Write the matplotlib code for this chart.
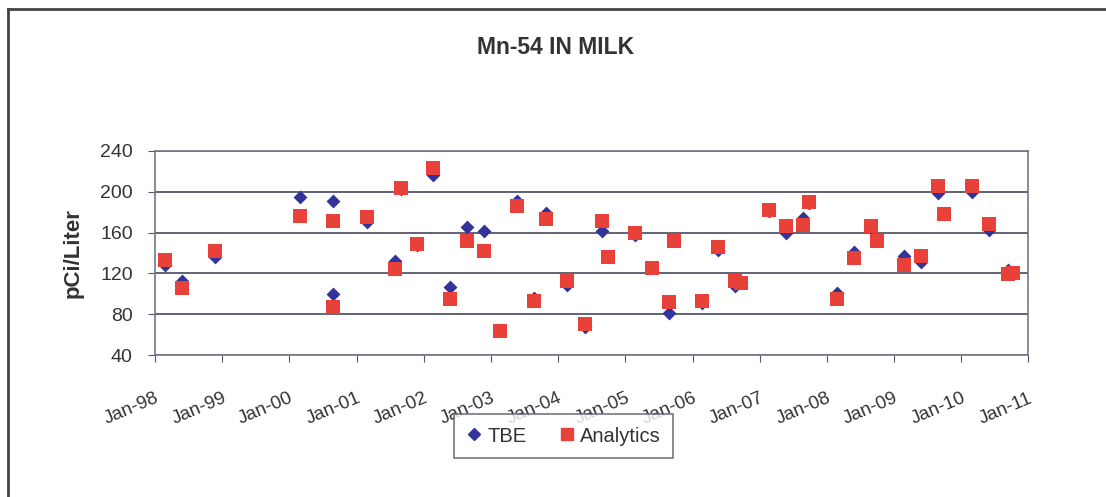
import pandas as pd
import matplotlib
matplotlib.use('Agg')
import matplotlib.pyplot as plt
import matplotlib.dates as mdates
from matplotlib.lines import Line2D

plt.rcParams['font.family'] = ['Liberation Sans', 'DejaVu Sans']

# sample dates and results (pCi/Liter)
dates = ['1998-02-24', '1998-05-26', '1998-11-24', '2000-02-27', '2000-08-26',
         '2000-08-26', '2001-02-24', '2001-07-28', '2001-08-30', '2001-11-25',
         '2002-02-21', '2002-05-22', '2002-08-26', '2002-11-24', '2003-02-22',
         '2003-05-23', '2003-08-23', '2003-10-26', '2004-02-21', '2004-05-27',
         '2004-08-26', '2004-09-26', '2005-02-22', '2005-05-27', '2005-08-25',
         '2005-09-24', '2006-02-22', '2006-05-20', '2006-08-18', '2006-09-24',
         '2007-02-21', '2007-05-22', '2007-08-24', '2007-09-26', '2008-02-25',
         '2008-05-27', '2008-08-27', '2008-09-27', '2009-02-24', '2009-05-26',
         '2009-08-29', '2009-09-29', '2010-02-27', '2010-05-30', '2010-09-12',
         '2010-10-08']
tbe = [128, 113, 136, 195, 191, 100, 170, 132, 203, 148,
       216, 107, 165, 162, 64, 191, 96, 179, 109, 67,
       162, 136, 158, 125, 81, 152, 91, 143, 108, 112,
       181, 160, 174, 189, 101, 141, 165, 152, 137, 131,
       199, 178, 200, 163, 123, 120]
analytics = [133, 106, 142, 176, 171, 87, 175, 124, 204, 149,
             223, 95, 152, 142, 64, 186, 93, 173, 113, 70,
             171, 136, 160, 125, 92, 152, 93, 146, 113, 111,
             182, 166, 167, 190, 95, 135, 166, 152, 128, 137,
             206, 178, 206, 168, 119, 120]

x = pd.to_datetime(dates)

fig = plt.figure(figsize=(11.06, 4.97), dpi=100)
ax = fig.add_axes([0.1401, 0.2857, 0.7898, 0.4105])

grid_c = '#55566a'
ax.scatter(x, tbe, marker='D', s=50, color='#333399', zorder=3, linewidths=0)
ax.scatter(x, analytics, marker='s', s=115, color='#E8413A', zorder=4, linewidths=0)

ax.set_ylim(40, 240)
ax.set_yticks(range(40, 241, 40))
ax.set_xlim(pd.Timestamp('1998-01-01'), pd.Timestamp('2011-01-01'))
ax.xaxis.set_major_locator(mdates.YearLocator())
ax.xaxis.set_major_formatter(mdates.DateFormatter('%b-%y'))

ax.grid(axis='y', color=grid_c, linewidth=1.3)
for s in ax.spines.values():
    s.set_color('#777788')
    s.set_linewidth(1.2)
ax.tick_params(axis='both', direction='out', length=5, color='#555566',
               labelcolor='#333333')
ax.tick_params(axis='y', pad=11, labelsize=14)
ax.tick_params(axis='x', pad=20, labelsize=13.5)
for lab in ax.get_xticklabels():
    lab.set_rotation(23)
    lab.set_ha('right')
    lab.set_rotation_mode('anchor')

ax.set_ylabel('pCi/Liter', fontsize=16, fontweight='bold', color='#333333',
              labelpad=12)

fig.text(556 / 1106, 1 - 47 / 497, 'Mn-54 IN MILK', ha='center', va='center',
         fontsize=16.5, fontweight='bold', color='#333333')

# chart border (only top and left visible in the reference)
fig.add_artist(Line2D([0.007, 0.007], [0, 0.982], transform=fig.transFigure,
                      color='#444444', linewidth=2))
fig.add_artist(Line2D([0.007, 1], [0.982, 0.982], transform=fig.transFigure,
                      color='#444444', linewidth=2))

handles = [Line2D([], [], marker='D', linestyle='', color='#333399', markersize=6),
           Line2D([], [], marker='s', linestyle='', color='#E8413A', markersize=9)]
leg = fig.legend(handles, ['TBE', 'Analytics'], loc='center',
                 bbox_to_anchor=(563.5 / 1106, 1 - 436 / 497), ncol=2,
                 fontsize=14.5, frameon=True, fancybox=False, handlelength=0.8,
                 handletextpad=0.25, columnspacing=1.6, borderpad=0.6,
                 borderaxespad=0)
leg.get_frame().set_edgecolor('#555566')
leg.get_frame().set_linewidth(1.2)
for t in leg.get_texts():
    t.set_color('#333333')

fig.savefig('out.png', dpi=100)
